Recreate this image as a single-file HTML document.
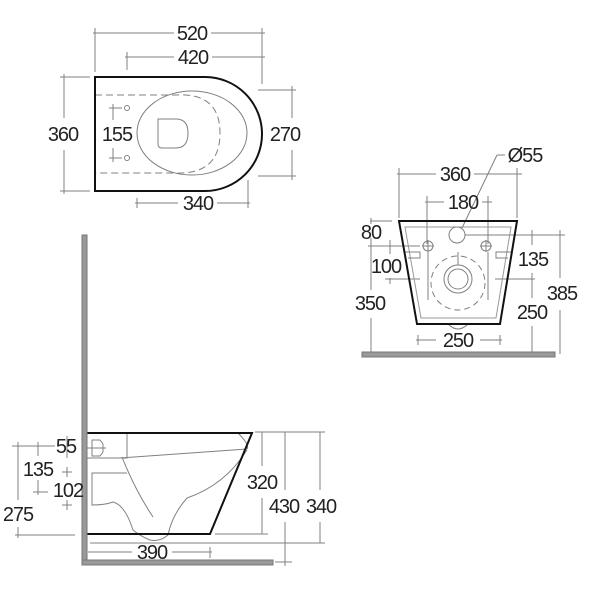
<!DOCTYPE html>
<html><head><meta charset="utf-8"><style>
html,body{margin:0;padding:0;background:#fff}
svg{display:block}
text{font-family:"Liberation Sans",Arial,sans-serif;font-size:20px;fill:#222;letter-spacing:-1px}
</style></head><body>
<svg width="600" height="600" viewBox="0 0 600 600" xmlns="http://www.w3.org/2000/svg">
<g stroke="#808080" stroke-width="1" fill="none">
<line x1="93" y1="33" x2="174" y2="33"/><line x1="211" y1="33" x2="265" y2="33"/>
<line x1="95" y1="28" x2="95" y2="72"/><line x1="262" y1="28" x2="262" y2="84"/>
<line x1="125" y1="57" x2="174" y2="57"/><line x1="212" y1="57" x2="265" y2="57"/>
<line x1="127" y1="52" x2="127" y2="70"/>
<line x1="60" y1="77" x2="90" y2="77"/><line x1="60" y1="191" x2="90" y2="191"/>
<line x1="64" y1="74" x2="64" y2="118"/><line x1="64" y1="150" x2="64" y2="194"/>
<line x1="109" y1="108" x2="122" y2="108"/><line x1="109" y1="158" x2="122" y2="158"/>
<line x1="113" y1="104" x2="113" y2="120"/><line x1="113" y1="148" x2="113" y2="162"/>
<line x1="258" y1="90" x2="296" y2="90"/><line x1="258" y1="176" x2="296" y2="176"/>
<line x1="292" y1="86" x2="292" y2="118"/><line x1="292" y1="150" x2="292" y2="180"/>
<line x1="135" y1="203" x2="178" y2="203"/><line x1="217" y1="203" x2="250" y2="203"/>
<line x1="137" y1="198" x2="137" y2="208"/><line x1="248" y1="180" x2="248" y2="208"/>
<circle cx="127" cy="108" r="2.5"/><circle cx="127" cy="158" r="2.5"/>
<path d="M95 95 H175 Q220 92 220 133 Q220 175 175 173 H95" stroke-dasharray="7,4"/>
<ellipse cx="192" cy="133" rx="55" ry="42"/>
<path d="M158 119 H176 Q188 119 188 133 Q188 148 176 148 H162 Q158 148 158 144 Z"/>
<line x1="397" y1="174" x2="436" y2="174"/><line x1="474" y1="174" x2="522" y2="174"/>
<line x1="399" y1="168" x2="399" y2="218"/><line x1="517" y1="168" x2="517" y2="218"/>
<line x1="425" y1="202" x2="444" y2="202"/><line x1="482" y1="202" x2="492" y2="202"/>
<line x1="427" y1="196" x2="427" y2="244"/><line x1="488" y1="196" x2="488" y2="244"/>
<line x1="497" y1="155" x2="462" y2="228"/><line x1="497" y1="155" x2="505" y2="155"/>
<line x1="370" y1="221" x2="392" y2="221"/><line x1="371" y1="218" x2="371" y2="224"/>
<line x1="368" y1="246" x2="420" y2="246"/><line x1="371" y1="238" x2="371" y2="290"/><line x1="371" y1="318" x2="371" y2="354"/>
<line x1="390" y1="240" x2="390" y2="254"/><line x1="390" y1="278" x2="390" y2="284"/>
<line x1="385" y1="279" x2="420" y2="279"/>
<line x1="465" y1="235" x2="565" y2="235"/><line x1="560" y1="230" x2="560" y2="278"/><line x1="560" y1="310" x2="560" y2="354"/>
<line x1="495" y1="279" x2="535" y2="279"/><line x1="532" y1="230" x2="532" y2="245"/><line x1="532" y1="273" x2="532" y2="298"/><line x1="532" y1="326" x2="532" y2="354"/>
<line x1="416" y1="340" x2="436" y2="340"/><line x1="480" y1="340" x2="502" y2="340"/>
<line x1="418" y1="335" x2="418" y2="345"/><line x1="500" y1="335" x2="500" y2="345"/>
<path d="M405 227 H511 L496 318 H421 Z" stroke="#999"/>
<circle cx="457" cy="235" r="8"/><circle cx="428" cy="246" r="5"/><circle cx="486" cy="246" r="5"/>
<path d="M422 246 H434 M428 240 V252 M480 246 H492 M486 240 V252"/>
<circle cx="458" cy="279" r="14"/><circle cx="458" cy="279" r="10"/>
<circle cx="458" cy="283" r="27" stroke-dasharray="6,4"/>
<line x1="458" y1="252" x2="458" y2="265"/><line x1="428" y1="252" x2="428" y2="300"/><line x1="488" y1="252" x2="488" y2="300"/>
<path d="M448 324 Q458 334 468 324"/>
<path d="M405 252 H420 V258 H408 M511 252 H496 V258 H508"/>
<line x1="12" y1="446" x2="55" y2="446"/>
<line x1="18" y1="442" x2="18" y2="500"/><line x1="18" y1="527" x2="18" y2="538"/>
<line x1="38" y1="442" x2="38" y2="456"/><line x1="38" y1="480" x2="38" y2="495"/>
<line x1="33" y1="492" x2="48" y2="492"/>
<line x1="67" y1="436" x2="67" y2="458"/><line x1="62" y1="472" x2="72" y2="472"/><line x1="67" y1="467" x2="67" y2="477"/>
<line x1="62" y1="505" x2="72" y2="505"/><line x1="67" y1="500" x2="67" y2="510"/>
<line x1="15" y1="535" x2="75" y2="535"/>
<line x1="88" y1="552" x2="132" y2="552"/><line x1="172" y1="552" x2="212" y2="552"/><line x1="210" y1="547" x2="210" y2="558"/>
<line x1="255" y1="432" x2="325" y2="432"/>
<line x1="262" y1="432" x2="262" y2="466"/><line x1="262" y1="498" x2="262" y2="534"/>
<line x1="285" y1="432" x2="285" y2="490"/><line x1="285" y1="522" x2="285" y2="566"/>
<line x1="320" y1="432" x2="320" y2="490"/><line x1="320" y1="522" x2="320" y2="543"/>
<line x1="215" y1="534" x2="268" y2="534"/><line x1="90" y1="543" x2="325" y2="543"/><line x1="275" y1="562" x2="292" y2="562"/>
<path d="M87 458 H127 V433 M120 458 L247 449 M238 433 Q250 445 247 449"/>
<path d="M122 457 Q135 490 153 517 M247 450 Q225 485 187 498 Q172 515 168 535 Q160 542 150 540 Q140 536 133 530 Q125 505 113 502 Q105 505 92 505 V473 H127"/>
<path d="M92 440 H100 L103 444 V452 L100 456 H92 Z M85 448 H106"/>
</g>
<g stroke="#111" stroke-width="2" fill="none">
<path d="M95 77 H205 A57 57 0 0 1 205 191 H95 Z"/>
<path d="M399 221 H517 L500 324 H417 Z"/>
<path d="M87 433 H252 L210 534 H87"/>
</g>
<rect x="362" y="352" width="193" height="5" fill="#999" stroke="#777"/>
<rect x="82" y="235" width="5" height="330" fill="#999" stroke="#777"/>
<rect x="82" y="560" width="191" height="5" fill="#999" stroke="#777"/>
<g text-anchor="middle">
<text x="192" y="40">520</text><text x="193" y="64">420</text>
<text x="63" y="141">360</text><text x="117" y="141">155</text>
<text x="285" y="141">270</text><text x="198" y="210">340</text>
<text x="455" y="181">360</text><text x="463" y="209">180</text>
<text x="525" y="162">Ø55</text>
<text x="371" y="239">80</text><text x="386" y="273">100</text><text x="370" y="310">350</text>
<text x="533" y="266">135</text><text x="562" y="300">385</text><text x="532" y="319">250</text>
<text x="458" y="347">250</text>
<text x="66" y="453">55</text><text x="38" y="476">135</text><text x="68" y="497">102</text>
<text x="18" y="521">275</text>
<text x="262" y="489">320</text><text x="284" y="513">430</text><text x="321" y="513">340</text>
<text x="152" y="559">390</text>
</g>
</svg>
</body></html>
